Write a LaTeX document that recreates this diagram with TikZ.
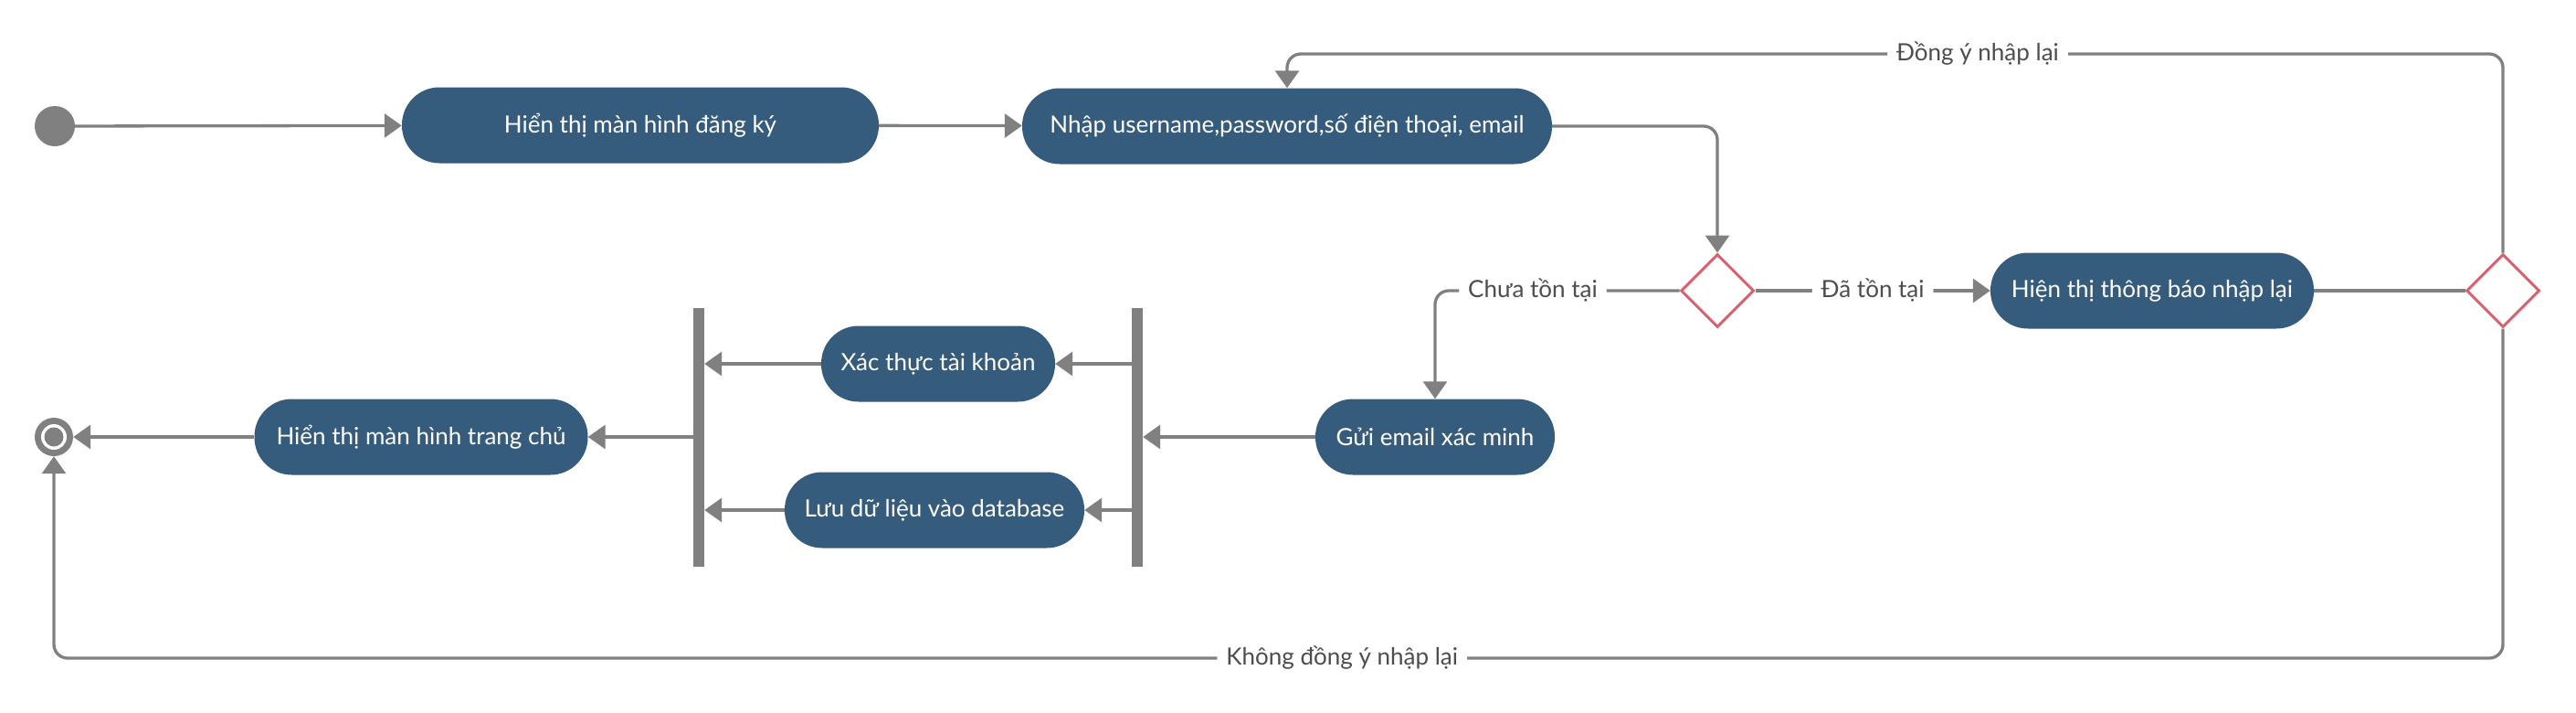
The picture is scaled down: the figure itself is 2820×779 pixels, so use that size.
\documentclass[tikz,border=0pt]{standalone}
\usepackage{fontspec}
\setmainfont{Lato}
\usetikzlibrary{arrows.meta,shapes.geometric}
\definecolor{nodefill}{RGB}{54,92,125}
\definecolor{linegrey}{RGB}{128,128,128}
\definecolor{diared}{RGB}{216,99,110}
\definecolor{labelgrey}{RGB}{77,77,77}
\begin{document}
\begin{tikzpicture}[x=1pt,y=-1pt,
  act/.style={rectangle, rounded corners=41pt, fill=nodefill, text=white, minimum height=83pt, inner sep=0pt, font=\fontsize{26}{30}\selectfont},
  decision/.style={diamond, draw=diared, line width=3pt, fill=white, minimum width=80pt, minimum height=80pt, inner sep=0pt},
  forkbar/.style={rectangle, fill=linegrey, minimum width=12pt, minimum height=283pt, inner sep=0pt},
  flow/.style={draw=linegrey, line width=3.3pt, -{Triangle[length=19pt,width=26pt]}, rounded corners=15pt},
  plain/.style={draw=linegrey, line width=3.3pt},
  lbl/.style={fill=white, text=labelgrey, inner xsep=10pt, inner ysep=2pt, font=\fontsize{26}{30}\selectfont},
]
\useasboundingbox (0,0) rectangle (2820,779);

\node[circle, fill=linegrey, minimum size=44pt, inner sep=0pt] (start) at (60,138) {};
\node[act, minimum width=522pt] (n1) at (701,137) {Hiển thị màn hình đăng ký};
\node[act, minimum width=580pt] (n2) at (1409,138) {Nhập username,password,số điện thoại, email};
\node[decision] (d1) at (1880,318) {};
\node[act, minimum width=354pt] (n3) at (2356,318) {Hiện thị thông báo nhập lại};
\node[decision] (d2) at (2740,318) {};
\node[act, minimum width=262pt] (n4) at (1571,478) {Gửi email xác minh};
\node[forkbar] (b2) at (1245,478) {};
\node[forkbar] (b1) at (765,478) {};
\node[act, minimum width=256pt] (n5) at (1027,398) {Xác thực tài khoản};
\node[act, minimum width=328pt] (n6) at (1023,558) {Lưu dữ liệu vào database};
\node[act, minimum width=365pt] (n7) at (461,478) {Hiển thị màn hình trang chủ};
\node[circle, fill=linegrey, minimum size=42pt, inner sep=0pt] (end) at (59,478) {};
\fill[white] (end.center) circle (14pt);
\fill[linegrey] (end.center) circle (10.5pt);

\coordinate (topy) at (0,59);
\coordinate (boty) at (0,720);

\draw[flow] (start) -- (n1);
\draw[flow] (n1) -- (n2);
\draw[flow] (n2.east) -| (d1.north);
\draw[flow] (d1.east) -- node[lbl]{Đã tồn tại} (n3.west);
\draw[flow] (d1.west) -| node[lbl, pos=0.3]{Chưa tồn tại} (n4.north);
\draw[plain] (n3.east) -- (d2.west);
\draw[flow] (d2.north) -- (d2.north |- topy) -| node[lbl, pos=0.216]{Đồng ý nhập lại} (n2.north);
\draw[flow] (d2.south) -- (d2.south |- boty) -| node[lbl, pos=0.237]{Không đồng ý nhập lại} (end.south);
\draw[flow] (n4.west) -- (n4.west -| b2.east);
\draw[flow] (b2.west |- n5.east) -- (n5.east);
\draw[flow] (b2.west |- n6.east) -- (n6.east);
\draw[flow] (n5.west) -- (n5.west -| b1.east);
\draw[flow] (n6.west) -- (n6.west -| b1.east);
\draw[flow] (b1.west |- n7.east) -- (n7.east);
\draw[flow] (n7.west) -- (end.east);
\end{tikzpicture}
\end{document}
